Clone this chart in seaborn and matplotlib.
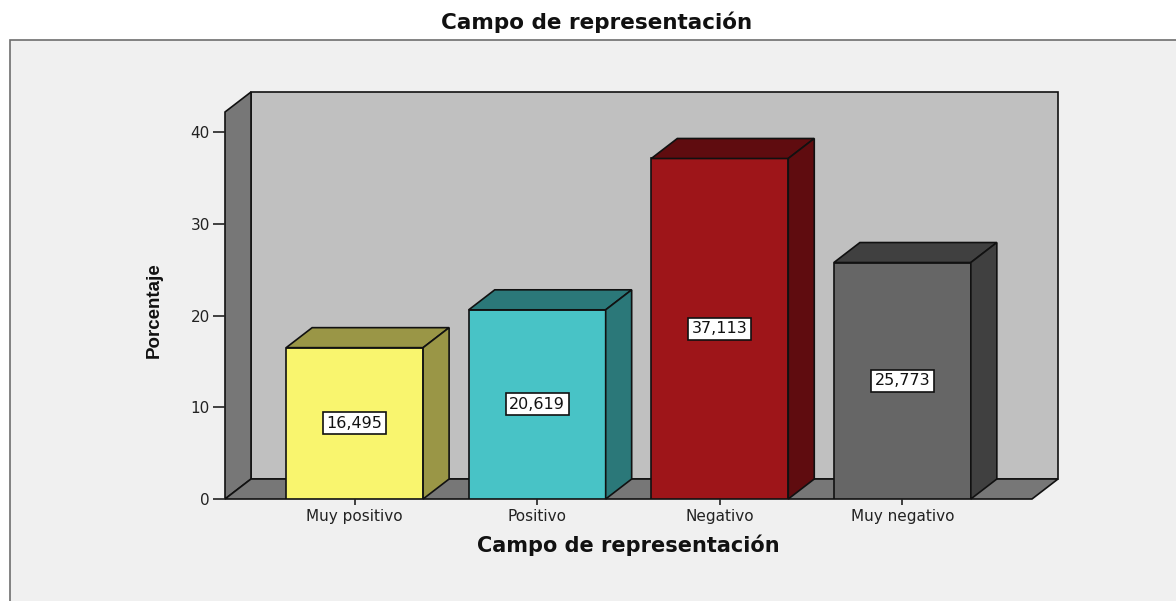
import matplotlib
matplotlib.use("Agg")
import matplotlib.pyplot as plt
from matplotlib.patches import Polygon, Rectangle
import seaborn as sns
import pandas as pd

# ---- data ----
categories = ["Muy positivo", "Positivo", "Negativo", "Muy negativo"]
percent = [16.495, 20.619, 37.113, 25.773]
value_labels = ["16,495", "20,619", "37,113", "25,773"]
y_ticks = [0, 10, 20, 30, 40]

front_colors = ["#f9f56e", "#48c3c6", "#9e1519", "#666666"]
shade_colors = ["#9a9646", "#2b7879", "#5f0c0f", "#404040"]

df = pd.DataFrame({"cat": categories, "pct": percent})

W, H = 1176, 601
fig = plt.figure(figsize=(W / 100, H / 100), dpi=100, facecolor="white")

# outer panel frame
fig.patches.append(Rectangle((10 / W, -0.05), 1.2, 1 - 40 / H + 0.05,
                             transform=fig.transFigure, facecolor="#f0f0f0",
                             edgecolor="#6e6e6e", linewidth=1.2, zorder=-10))

ax = fig.add_axes([225 / W, 1 - 499 / H, (1032 - 225) / W, (499 - 112) / H])
ax.set_zorder(5)
ax.set_facecolor("none")
for s in ax.spines.values():
    s.set_visible(False)

sns.barplot(data=df, x="cat", y="pct", hue="cat", palette=front_colors,
            saturation=1, width=0.75, edgecolor="#111111", linewidth=1.2,
            legend=False, ax=ax, zorder=3)

xmin, xmax = -0.71, 3.71
ymax = 42.18
ax.set_xlim(xmin, xmax)
ax.set_ylim(0, ymax)

# 3D depth in data units
px_x = (1032 - 225) / (xmax - xmin)
px_y = (499 - 112) / ymax
dx = 26 / px_x
dy = 20 / px_y

edge = dict(edgecolor="#111111", linewidth=1.2, clip_on=False)
# back wall
ax.add_patch(Polygon([(xmin + dx, dy), (xmax + dx, dy), (xmax + dx, ymax + dy),
                      (xmin + dx, ymax + dy)], facecolor="#c0c0c0", zorder=0.5, **edge))
# left side wall
ax.add_patch(Polygon([(xmin, 0), (xmin, ymax), (xmin + dx, ymax + dy),
                      (xmin + dx, dy)], facecolor="#777777", zorder=0.6, **edge))
# floor
ax.add_patch(Polygon([(xmin, 0), (xmax, 0), (xmax + dx, dy), (xmin + dx, dy)],
                     facecolor="#777777", zorder=0.6, **edge))

# 3D faces for bars, derived from bar patches
bars = [p for p in ax.patches if isinstance(p, Rectangle)]
bars = sorted(bars, key=lambda r: r.get_x())[:len(categories)]
for bar, sc, lab in zip(bars, shade_colors, value_labels):
    x0 = bar.get_x()
    x1 = x0 + bar.get_width()
    h = bar.get_height()
    ax.add_patch(Polygon([(x0, h), (x1, h), (x1 + dx, h + dy), (x0 + dx, h + dy)],
                         facecolor=sc, zorder=3, **edge))
    ax.add_patch(Polygon([(x1, 0), (x1, h), (x1 + dx, h + dy), (x1 + dx, dy)],
                         facecolor=sc, zorder=3, **edge))
    ax.text((x0 + x1) / 2, h / 2, lab, ha="center", va="center", fontsize=11.5,
            family="DejaVu Sans", zorder=5, color="#111111",
            bbox=dict(boxstyle="square,pad=0.22", facecolor="white",
                      edgecolor="#111111", linewidth=1.2))

ax.set_yticks(y_ticks)
ax.set_yticklabels([str(t) for t in y_ticks])
ax.tick_params(axis="y", length=9, width=1.2, color="#222222", pad=2,
               labelsize=11, labelcolor="#222222")
ax.tick_params(axis="x", length=4.5, width=1.2, color="#222222", pad=3,
               labelsize=11, labelcolor="#222222")
for lbl in ax.get_xticklabels() + ax.get_yticklabels():
    lbl.set_family("DejaVu Sans")

ax.set_xlabel("Campo de representación", fontsize=15, fontweight="bold",
              family="DejaVu Sans", color="#111111")
ax.xaxis.set_label_coords(0.5, (499 - 535) / 387)
ax.set_ylabel("Porcentaje", fontsize=13.5, fontweight="bold",
              family="Liberation Sans", color="#111111")
ax.yaxis.set_label_coords((163 - 225) / 807, (499 - 310) / 387)

fig.text(597 / W, 1 - 22 / H, "Campo de representación", ha="center", va="center",
         fontsize=15.5, fontweight="bold", family="DejaVu Sans", color="#111111")

fig.savefig("out.png", dpi=100, facecolor="white")
